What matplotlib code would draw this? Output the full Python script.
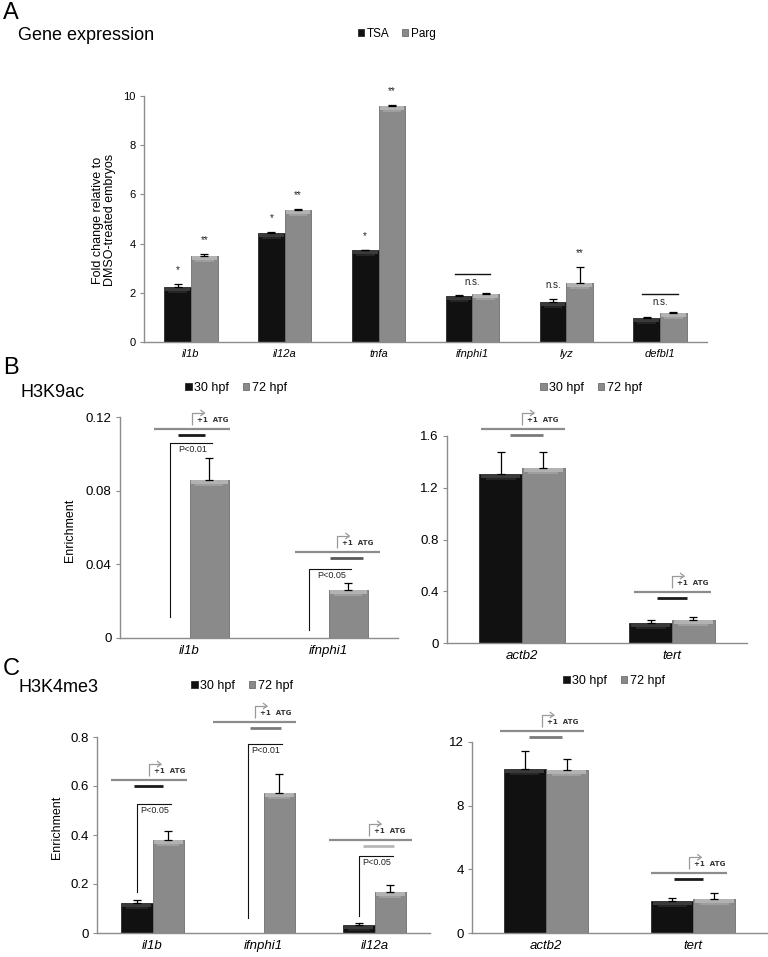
import numpy as np
import matplotlib
matplotlib.use("Agg")
import matplotlib.pyplot as plt
from matplotlib.patches import Patch

plt.rcParams['font.family'] = ['Liberation Sans', 'DejaVu Sans']

W, H = 768, 957

# ---- panel A: gene expression (fold change vs DMSO) ----
genes_a = ["il1b", "il12a", "tnfa", "ifnphi1", "lyz", "defbl1"]
tsa = [2.22, 4.42, 3.73, 1.87, 1.62, 0.97]
tsa_err = [0.12, 0.04, 0.02, 0.03, 0.11, 0.03]
parg = [3.50, 5.35, 9.60, 1.97, 2.38, 1.16]
parg_err = [0.06, 0.05, 0.02, 0.03, 0.66, 0.04]
tsa_marks = ["*", "*", "*", "", "n.s.", ""]
parg_marks = ["**", "**", "**", "", "**", ""]
ns_genes = ["ifnphi1", "defbl1"]

# ---- panel B: H3K9ac enrichment ----
genes_b1 = ["il1b", "ifnphi1"]
k9_30_b1 = [0.0, 0.0]
k9_30_b1_err = [0.0, 0.0]
k9_72_b1 = [0.0858, 0.026]
k9_72_b1_err = [0.0119, 0.0038]

genes_b2 = ["actb2", "tert"]
k9_30_b2 = [1.305, 0.155]
k9_30_b2_err = [0.17, 0.022]
k9_72_b2 = [1.35, 0.178]
k9_72_b2_err = [0.126, 0.022]

# ---- panel C: H3K4me3 enrichment ----
genes_c1 = ["il1b", "ifnphi1", "il12a"]
k4_30_c1 = [0.122, 0.0, 0.033]
k4_30_c1_err = [0.013, 0.0, 0.007]
k4_72_c1 = [0.38, 0.571, 0.167]
k4_72_c1_err = [0.036, 0.079, 0.029]

genes_c2 = ["actb2", "tert"]
k4_30_c2 = [10.3, 2.0]
k4_30_c2_err = [1.15, 0.19]
k4_72_c2 = [10.25, 2.12]
k4_72_c2_err = [0.70, 0.38]

BW = 0.285
BLACK, BLACK_TOP, BLACK_EDGE = "#111111", "#3a3a3a", "#2a2a2a"
GREY, GREY_TOP, GREY_EDGE = "#8a8a8a", "#b2b2b2", "#6e6e6e"
AXIS = "#8c8c8c"

fig = plt.figure(figsize=(W / 100, H / 100), dpi=100)


def add_ax(x0, x1, y_top, y_bot):
    return fig.add_axes([x0 / W, 1 - y_bot / H, (x1 - x0) / W, (y_bot - y_top) / H])


def px_x(ax):
    lo, hi = ax.get_xlim()
    return (hi - lo) / (ax.get_position().width * W)


def px_y(ax):
    lo, hi = ax.get_ylim()
    return (hi - lo) / (ax.get_position().height * H)


def style(ax, labels, ymax, ticks, tick_fs, lab_fs):
    ax.set_xlim(-0.5, len(labels) - 0.5)
    ax.set_ylim(0, ymax)
    ax.set_yticks(ticks)
    ax.set_yticklabels([f"{t:g}" for t in ticks])
    ax.set_xticks(range(len(labels)))
    ax.set_xticklabels(labels, fontstyle="italic", fontsize=lab_fs)
    ax.tick_params(axis="x", length=0, pad=5)
    ax.tick_params(axis="y", length=3, color=AXIS, labelsize=tick_fs, pad=3)
    for s in ["top", "right"]:
        ax.spines[s].set_visible(False)
    for s in ["left", "bottom"]:
        ax.spines[s].set_color(AXIS)
        ax.spines[s].set_linewidth(1.0)


def bars(ax, vals, errs, side, color, top, edge):
    x = np.arange(len(vals)) + side * BW / 2
    vals = np.array(vals, dtype=float)
    lw = [0.6 if v > 0 else 0 for v in vals]
    ax.bar(x, vals, BW, color=color, edgecolor=edge, linewidth=lw, zorder=2)
    # excel-like bevel on top of each bar
    py = px_y(ax)
    bev = np.where(vals > 0, 4 * py, 0)
    ax.bar(x, bev, BW * 0.92, bottom=vals - bev, color=top, linewidth=0, zorder=3)
    bev2 = np.where(vals > 0, 2 * py, 0)
    ax.bar(x, bev2, BW * 0.7, bottom=vals - bev - bev2, color=top, alpha=0.5,
           linewidth=0, zorder=3)
    for xi, v, e in zip(x, vals, errs):
        if e > 0:
            ax.errorbar(xi, v, yerr=[[0], [e]], fmt="none", ecolor="black",
                        elinewidth=0.9, capsize=3, capthick=0.9, zorder=4)
    return x


def promoter(ax, xc, y, long_span, short_span, short_color, arrow_off):
    px, py = px_x(ax), px_y(ax)
    kw = dict(clip_on=False, solid_capstyle="butt", zorder=5)
    ax.plot([xc + long_span[0], xc + long_span[1]], [y, y], color=AXIS, lw=1.6, **kw)
    ax.plot([xc + short_span[0], xc + short_span[1]], [y - 6 * py] * 2,
            color=short_color, lw=2.0, **kw)
    xa = xc + arrow_off
    ax.plot([xa, xa, xa + 12 * px], [y + 4 * py, y + 16 * py, y + 16 * py],
            color="#9a9a9a", lw=0.9, **kw)
    ax.plot([xa + 8 * px, xa + 12 * px, xa + 8 * px],
            [y + 19 * py, y + 16 * py, y + 13 * py], color="#9a9a9a", lw=0.9, **kw)
    ax.text(xa + 5 * px, y + 9 * py, "+1  ATG", fontsize=5, fontweight="bold",
            family="DejaVu Sans", color="#333333", va="center", ha="left", clip_on=False)


def bracket(ax, xc, y0, y1, label):
    py = px_y(ax)
    ax.plot([xc - BW / 2, xc - BW / 2, xc + BW / 2 + 0.02], [y0, y1, y1],
            color="#111111", lw=0.8, clip_on=False, zorder=5)
    ax.text(xc + 0.02, y1 - 2 * py, label, fontsize=6.5, ha="center", va="top",
            color="#222222", zorder=5)


def handles(first_color, first_edge):
    return [Patch(facecolor=first_color, edgecolor=first_edge, lw=0.6),
            Patch(facecolor=GREY, edgecolor=GREY_EDGE, lw=0.6)]


def put_legend(labels, cx, cy, first_color, first_edge, fs):
    fig.legend(handles(first_color, first_edge), labels, loc="center",
               bbox_to_anchor=(cx / W, 1 - cy / H), ncol=2, frameon=False, fontsize=fs,
               handlelength=0.5, handleheight=0.5, handletextpad=0.2, columnspacing=1.1)


# ================= Panel A =================
axA = add_ax(144, 707, 96, 342)
style(axA, genes_a, 10, [0, 2, 4, 6, 8, 10], 8, 8)
xt = bars(axA, tsa, tsa_err, -1, BLACK, BLACK_TOP, BLACK_EDGE)
xp = bars(axA, parg, parg_err, 1, GREY, GREY_TOP, GREY_EDGE)
pyA = px_y(axA)
for xs, v, e, m in zip(xt, tsa, tsa_err, tsa_marks):
    if m:
        axA.text(xs, v + e + 11 * pyA, m, fontsize=7, ha="center", va="baseline",
                 color="#222222", clip_on=False)
for xs, v, e, m in zip(xp, parg, parg_err, parg_marks):
    if m:
        axA.text(xs, v + e + 11 * pyA, m, fontsize=7, ha="center", va="baseline",
                 color="#222222", clip_on=False)
for g in ns_genes:
    i = genes_a.index(g)
    yl = max(tsa[i] + tsa_err[i], parg[i] + parg_err[i]) + 0.75
    axA.plot([i - 0.19, i + 0.19], [yl, yl], color="#111111", lw=1.0)
    axA.text(i, yl - 7.5 * pyA, "n.s.", fontsize=7, ha="center", va="center",
             color="#222222")

fig.text(3 / W, 1 - 13 / H, "A", fontsize=17, ha="left", va="center")
fig.text(18 / W, 1 - 35 / H, "Gene expression", fontsize=13, ha="left", va="center")
fig.text(104 / W, 1 - 220 / H, "Fold change relative to\nDMSO-treated embryos",
         fontsize=9, rotation=90, ha="center", va="center", linespacing=1.0)
put_legend(["TSA", "Parg"], 397, 34, BLACK, BLACK_EDGE, 8.5)

# ================= Panel B =================
axB1 = add_ax(120, 398, 417, 638)
style(axB1, genes_b1, 0.12, [0, 0.04, 0.08, 0.12], 9.5, 9.5)
bars(axB1, k9_30_b1, k9_30_b1_err, -1, BLACK, BLACK_TOP, BLACK_EDGE)
bars(axB1, k9_72_b1, k9_72_b1_err, 1, GREY, GREY_TOP, GREY_EDGE)
promoter(axB1, 0, 0.1135, (-0.257, 0.293), (-0.086, 0.114), "#1a1a1a", 0.021)
promoter(axB1, 1, 0.0467, (-0.243, 0.371), (0.014, 0.25), "#5a5a5a", 0.064)
bracket(axB1, 0, 0.0114, 0.1059, "P<0.01")
bracket(axB1, 1, 0.0043, 0.0375, "P<0.05")

axB2 = add_ax(447, 747, 436, 643)
style(axB2, genes_b2, 1.6, [0, 0.4, 0.8, 1.2, 1.6], 9.5, 9.5)
bars(axB2, k9_30_b2, k9_30_b2_err, -1, BLACK, BLACK_TOP, BLACK_EDGE)
bars(axB2, k9_72_b2, k9_72_b2_err, 1, GREY, GREY_TOP, GREY_EDGE)
promoter(axB2, 0, 1.654, (-0.273, 0.287), (-0.08, 0.14), "#7a7a7a", 0.0)
promoter(axB2, 1, 0.394, (-0.253, 0.26), (-0.10, 0.10), "#1a1a1a", 0.0)

fig.text(3 / W, 1 - 368 / H, "B", fontsize=17, ha="left", va="center")
fig.text(20 / W, 1 - 392 / H, "H3K9ac", fontsize=13, ha="left", va="center")
fig.text(70 / W, 1 - 530 / H, "Enrichment", fontsize=9, rotation=90,
         ha="center", va="center")
put_legend(["30 hpf", "72 hpf"], 236, 388, BLACK, BLACK_EDGE, 9)
put_legend(["30 hpf", "72 hpf"], 591, 388, GREY, GREY_EDGE, 9)

# ================= Panel C =================
axC1 = add_ax(97, 430, 737, 933)
style(axC1, genes_c1, 0.8, [0, 0.2, 0.4, 0.6, 0.8], 9.5, 9.5)
bars(axC1, k4_30_c1, k4_30_c1_err, -1, BLACK, BLACK_TOP, BLACK_EDGE)
bars(axC1, k4_72_c1, k4_72_c1_err, 1, GREY, GREY_TOP, GREY_EDGE)
promoter(axC1, 0, 0.624, (-0.378, 0.315), (-0.171, 0.099), "#1a1a1a", -0.032)
promoter(axC1, 1, 0.861, (-0.459, 0.297), (-0.126, 0.162), "#7a7a7a", -0.077)
promoter(axC1, 2, 0.380, (-0.414, 0.342), (-0.108, 0.18), "#b8b8b8", -0.05)
bracket(axC1, 0, 0.167, 0.527, "P<0.05")
bracket(axC1, 1, 0.061, 0.771, "P<0.01")
bracket(axC1, 2, 0.069, 0.314, "P<0.05")

axC2 = add_ax(472, 767, 742, 933)
style(axC2, genes_c2, 12, [0, 4, 8, 12], 9.5, 9.5)
bars(axC2, k4_30_c2, k4_30_c2_err, -1, BLACK, BLACK_TOP, BLACK_EDGE)
bars(axC2, k4_72_c2, k4_72_c2_err, 1, GREY, GREY_TOP, GREY_EDGE)
promoter(axC2, 0, 12.69, (-0.312, 0.258), (-0.115, 0.108), "#7a7a7a", -0.027)
promoter(axC2, 1, 3.75, (-0.285, 0.23), (-0.129, 0.068), "#1a1a1a", -0.027)

fig.text(3 / W, 1 - 669 / H, "C", fontsize=17, ha="left", va="center")
fig.text(18 / W, 1 - 688 / H, "H3K4me3", fontsize=13, ha="left", va="center")
fig.text(57 / W, 1 - 827 / H, "Enrichment", fontsize=9, rotation=90,
         ha="center", va="center")
put_legend(["30 hpf", "72 hpf"], 242, 686, BLACK, BLACK_EDGE, 9)
put_legend(["30 hpf", "72 hpf"], 614, 681, BLACK, BLACK_EDGE, 9)

fig.savefig("out.png", dpi=100)
plt.close(fig)
